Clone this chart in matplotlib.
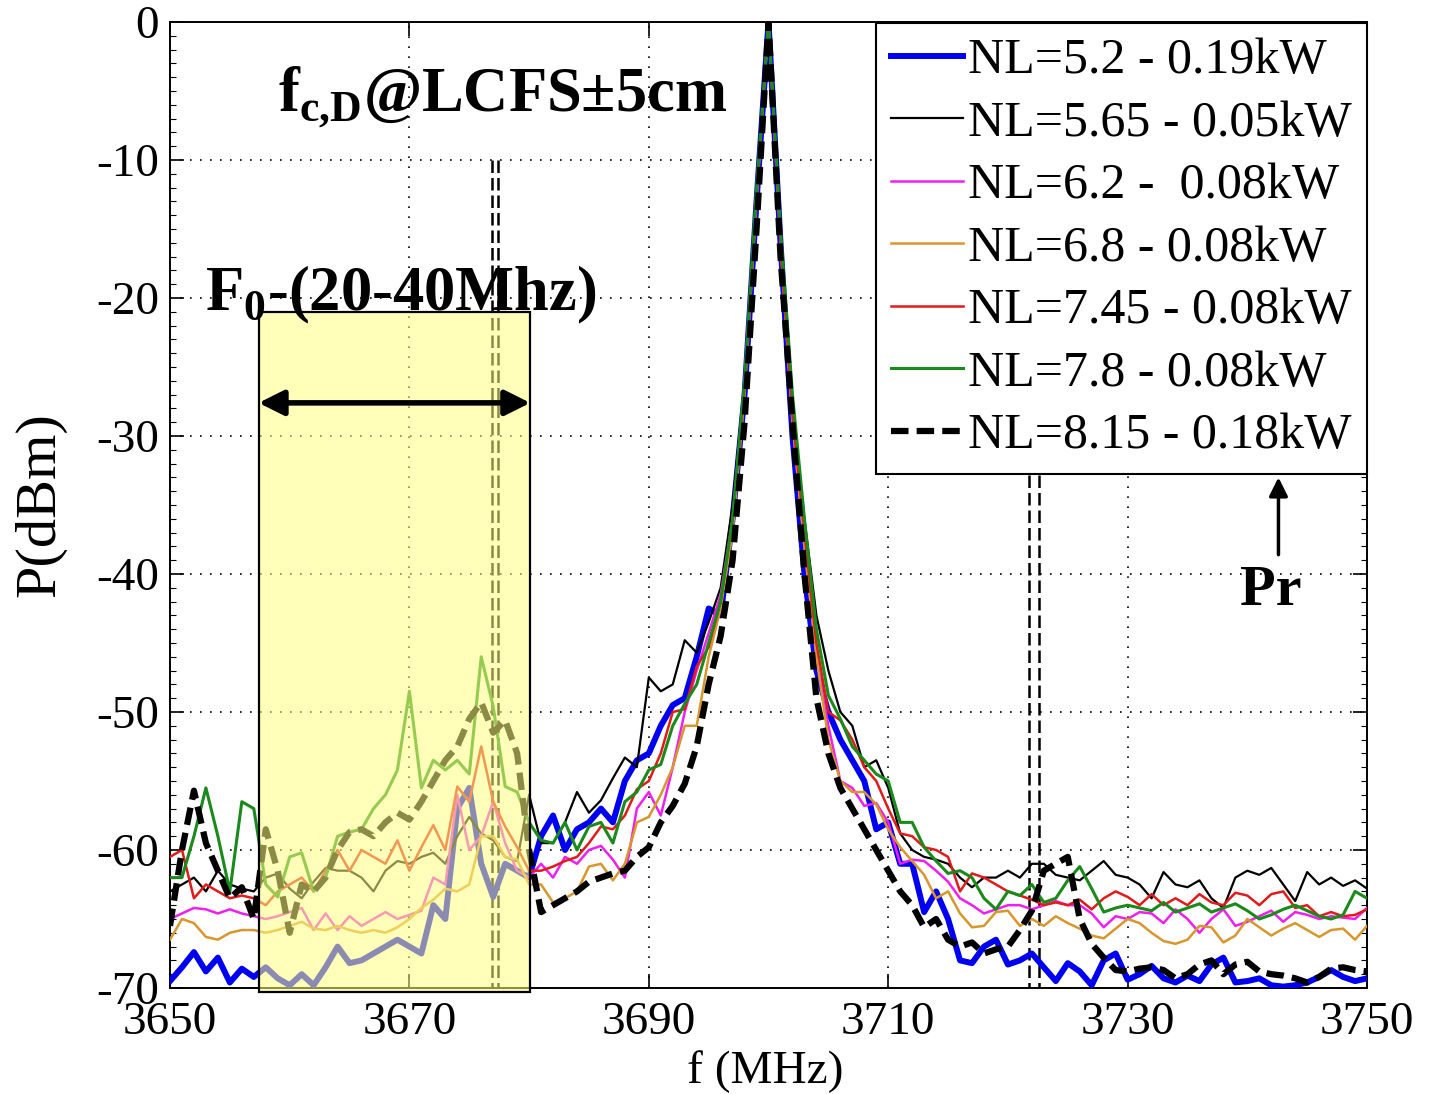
import numpy as np
import matplotlib
matplotlib.use('Agg')
import matplotlib.pyplot as plt
from matplotlib.patches import Rectangle
from matplotlib.ticker import MultipleLocator

plt.rcParams['font.family'] = 'Liberation Serif'
plt.rcParams['mathtext.fontset'] = 'custom'
plt.rcParams['mathtext.rm'] = 'Liberation Serif'
plt.rcParams['mathtext.bf'] = 'Liberation Serif:bold'
plt.rcParams['axes.unicode_minus'] = False

# frequency axis (MHz), 1 MHz steps
freq = np.arange(3650, 3751)

# received power (dBm) for each NL setting
p_nl520 = [-69.5, -68.5, -67.4, -68.8, -67.8, -69.6, -68.6, -69.2,
           -68.5, -69.3, -69.8, -69.0, -69.8, -68.5, -67.0, -68.2, -68.0, -67.5, -67.0, -66.5,
           -67.0, -67.5, -64.0, -65.0, -57.0, -55.5, -61.0, -63.4, -61.0, -61.5, -62.0,
           -59.0, -57.5, -60.0, -58.5, -58.0, -57.0, -58.0, -55.0, -53.5, -53.0,
           -51.0, -49.5, -49.0, -46.0, -42.5, -43.0, -36.0, -27.0, -13.0, 0.0,
           -16.0, -30.0, -40.0, -47.0, -50.0, -52.0, -53.5, -55.0, -58.5, -58.0,
           -61.0, -61.0, -64.5, -63.0, -65.0, -68.0, -68.2, -67.0, -66.5, -68.3,
           -68.0, -67.5, -68.5, -69.5, -68.2, -68.8, -69.8, -68.0, -67.5, -69.4,
           -69.0, -68.4, -69.3, -69.6, -69.1, -69.5, -68.3, -67.8, -69.6, -69.5,
           -69.3, -69.8, -69.9, -69.8, -69.6, -69.2, -68.7, -69.2, -69.5, -69.3]
p_nl565 = [-63.0, -62.5, -62.0, -63.0, -61.5, -62.5, -62.8, -63.0,
           -62.0, -61.7, -62.8, -63.5, -62.3, -61.3, -61.5, -61.5, -62.0, -63.0, -61.5, -60.8,
           -61.0, -60.5, -60.2, -61.0, -59.0, -57.6, -58.8, -59.3, -60.5, -60.8, -56.0,
           -59.5, -59.5, -58.0, -55.8, -57.3, -56.4, -54.8, -53.3, -54.0, -47.5,
           -48.5, -48.0, -44.8, -45.7, -43.5, -41.0, -35.0, -26.0, -12.0, 0.0,
           -15.0, -28.0, -36.0, -43.0, -47.0, -50.0, -51.0, -54.0, -53.5, -55.5,
           -58.8, -60.0, -60.5, -60.7, -61.0, -62.0, -62.7, -62.0, -62.0, -61.5,
           -62.0, -61.0, -61.0, -61.8, -62.0, -62.2, -61.5, -60.8, -61.8, -62.0,
           -62.5, -63.5, -61.6, -62.5, -62.7, -62.2, -63.5, -64.2, -62.0, -61.5,
           -61.8, -61.3, -62.5, -63.7, -61.6, -62.5, -62.0, -62.6, -62.2, -62.8]
p_nl620 = [-65.0, -64.6, -64.2, -64.3, -64.6, -64.3, -64.6, -64.8,
           -65.0, -64.8, -64.5, -64.2, -65.8, -64.6, -65.8, -64.8, -65.5, -65.0, -64.5, -65.0,
           -64.7, -64.4, -62.0, -62.5, -56.0, -60.0, -59.0, -56.5, -59.5, -61.5, -62.0,
           -61.0, -62.0, -60.5, -61.0, -60.0, -59.7, -60.7, -62.0, -57.0, -55.8,
           -57.5, -54.0, -50.0, -47.0, -44.3, -41.5, -36.0, -26.0, -12.5, 0.0,
           -16.0, -29.0, -38.0, -46.0, -51.0, -55.0, -55.5, -56.8, -56.6, -58.0,
           -61.0, -60.7, -60.8, -61.5, -62.3, -63.5, -64.0, -64.6, -64.3, -64.0,
           -64.0, -64.3, -64.0, -63.7, -64.0, -64.0, -64.6, -65.6, -64.8, -65.0,
           -64.5, -64.6, -65.3, -64.3, -65.0, -66.0, -65.0, -64.3, -65.5, -65.2,
           -64.8, -64.4, -65.2, -64.5, -64.7, -65.0, -64.8, -64.9, -65.0, -64.2]
p_nl680 = [-66.5, -65.0, -65.3, -66.3, -66.5, -66.0, -65.8, -65.8,
           -66.0, -65.8, -65.5, -65.2, -65.7, -65.8, -65.5, -65.8, -66.0, -65.8, -66.0, -65.6,
           -65.0, -64.2, -63.6, -62.8, -63.0, -62.5, -59.0, -59.0, -60.5, -60.7, -62.5,
           -62.5, -63.8, -63.5, -63.0, -61.2, -61.0, -62.2, -61.0, -58.0, -57.6,
           -56.0, -54.0, -51.0, -51.0, -46.0, -42.5, -37.0, -27.0, -13.0, 0.0,
           -16.0, -29.0, -38.0, -46.0, -52.0, -55.0, -55.8, -55.8, -56.7, -58.5,
           -59.8, -60.8, -61.8, -63.5, -63.0, -64.6, -65.6, -65.5, -64.5, -64.4,
           -65.5, -65.0, -65.5, -64.8, -65.3, -65.7, -66.2, -66.4, -65.7, -65.0,
           -65.3, -66.0, -66.6, -66.8, -66.5, -65.5, -65.6, -66.7, -66.2, -65.0,
           -65.6, -66.2, -65.7, -65.3, -65.8, -66.3, -65.8, -65.7, -66.5, -65.5]
p_nl745 = [-60.5, -60.0, -63.5, -62.5, -63.0, -63.5, -63.3, -63.5,
           -64.0, -63.0, -62.5, -62.0, -63.0, -61.5, -60.0, -61.5, -60.0, -60.5, -61.0, -59.3,
           -61.5, -59.8, -58.2, -60.0, -55.4, -56.5, -52.5, -56.5, -58.3, -59.8, -61.5,
           -61.5, -61.2, -60.8, -60.5, -59.5, -58.3, -58.5, -57.5, -55.6, -55.0,
           -53.0, -50.0, -49.8, -46.7, -45.3, -42.0, -36.0, -26.5, -12.5, 0.0,
           -16.0, -28.5, -37.0, -45.0, -50.0, -50.6, -52.0, -54.0, -55.0, -57.0,
           -58.8, -59.0, -59.8, -60.0, -60.5, -63.0, -61.7, -62.0, -62.5, -63.0,
           -63.3, -63.6, -64.0, -63.8, -64.0, -63.6, -64.3, -63.5, -63.0, -63.4,
           -64.0, -63.2, -64.0, -63.5, -64.0, -63.2, -63.8, -64.0, -63.1, -63.3,
           -64.0, -63.2, -63.0, -64.2, -64.0, -64.8, -64.5, -64.8, -64.7, -64.3]
p_nl780 = [-62.0, -62.0, -59.0, -55.5, -59.0, -63.0, -56.5, -57.0,
           -62.5, -63.4, -60.5, -60.2, -63.0, -62.0, -59.0, -58.7, -58.5, -57.0, -56.0, -54.2,
           -48.5, -55.5, -53.5, -54.2, -53.5, -54.5, -46.0, -49.6, -55.4, -55.8, -58.0,
           -59.3, -59.5, -58.0, -60.0, -58.3, -58.0, -59.5, -56.5, -55.8, -54.2,
           -53.8, -51.0, -49.4, -48.0, -45.0, -42.0, -36.0, -26.0, -12.0, 0.0,
           -15.0, -27.0, -36.0, -44.0, -48.8, -50.5, -52.5, -53.5, -54.5, -55.0,
           -58.0, -58.0, -59.8, -60.8, -61.7, -61.5, -62.0, -63.5, -64.3, -63.0,
           -63.3, -62.5, -63.8, -63.5, -62.2, -61.2, -62.8, -64.5, -64.2, -64.0,
           -64.2, -64.4, -63.8, -64.5, -64.2, -63.9, -64.5, -64.2, -63.9, -64.4,
           -65.0, -64.7, -64.3, -64.0, -64.4, -64.8, -65.0, -64.7, -63.0, -63.5]
p_nl815 = [-65.5, -60.0, -55.7, -59.5, -61.5, -63.5, -62.7, -65.0,
           -58.5, -61.5, -66.0, -62.5, -63.0, -62.0, -60.0, -58.7, -58.5, -59.0, -58.0, -57.3,
           -57.8, -56.5, -55.0, -53.5, -52.5, -50.5, -49.3, -51.5, -50.6, -53.0, -60.0,
           -64.5, -64.0, -63.5, -63.0, -62.3, -62.0, -61.7, -61.5, -60.5, -59.8,
           -58.0, -56.8, -55.2, -52.5, -48.0, -44.5, -39.0, -29.0, -15.0, 0.0,
           -17.0, -29.0, -40.0, -49.0, -53.0, -55.5, -57.0, -58.5, -60.0, -61.5,
           -63.0, -64.0, -65.6, -65.0, -66.5, -67.0, -66.7, -67.5, -67.2, -67.0,
           -65.8, -64.4, -61.5, -61.0, -60.5, -65.0, -66.8, -67.8, -68.7, -68.8,
           -68.6, -68.5, -68.7, -69.3, -69.0, -68.3, -68.0, -69.0, -68.3, -68.1,
           -68.8, -69.0, -69.1, -69.3, -69.6, -69.2, -68.6, -68.5, -68.7, -68.8]

labels = ['NL=5.2 - 0.19kW', 'NL=5.65 - 0.05kW', 'NL=6.2 -  0.08kW',
          'NL=6.8 - 0.08kW', 'NL=7.45 - 0.08kW', 'NL=7.8 - 0.08kW',
          'NL=8.15 - 0.18kW']

# marker positions for the cyclotron-layer frequencies and the analysed band
fcd_lines = [3676.9, 3677.4, 3721.8, 3722.6]
band = [3657.4, 3680.1]

fig = plt.figure(figsize=(14.31, 10.94), dpi=100)
ax = fig.add_axes([0.1188, 0.0969, 0.8365, 0.883])

ax.plot(freq, p_nl520, color='#0000F0', lw=4.3, label=labels[0], zorder=3)
ax.plot(freq, p_nl565, color='black', lw=1.6, label=labels[1], zorder=3)
ax.plot(freq, p_nl620, color='#F01EF0', lw=1.8, label=labels[2], zorder=3)
ax.plot(freq, p_nl680, color='#D8962C', lw=1.8, label=labels[3], zorder=3)
ax.plot(freq, p_nl745, color='#E41A1A', lw=1.8, label=labels[4], zorder=3)
ax.plot(freq, p_nl780, color='#1A8A1A', lw=2.2, label=labels[5], zorder=3)
ax.plot(freq, p_nl815, color='black', lw=4.5, ls=(0, (2.8, 1.3)),
        label=labels[6], zorder=3)

for fx in fcd_lines:
    ax.plot([fx, fx], [-10, -70], color='black', lw=1.8,
            ls=(0, (5, 2)), zorder=2)

# shaded band F0-(20-40 MHz), drawn over the traces
ax.add_patch(Rectangle((band[0], -70.3), band[1] - band[0], 49.3,
                       facecolor=(1.0, 1.0, 0.5, 0.55), edgecolor='black',
                       lw=1.6, clip_on=False, zorder=4))
ax.annotate('', xy=(band[0], -27.6), xytext=(band[1], -27.6),
            arrowprops=dict(arrowstyle='<|-|>', lw=4, color='black',
                            mutation_scale=38, shrinkA=0, shrinkB=0),
            zorder=5)

ax.text(3659.0, -6.4, r'f$_{\mathbf{c{,}D}}$@LCFS±5cm', fontsize=45,
        fontweight='bold', va='baseline', ha='left', zorder=6)
ax.text(3652.9, -20.9, r'F$_{\mathbf{0}}$-(20-40Mhz)', fontsize=45,
        fontweight='bold', va='baseline', ha='left', zorder=6)

ax.annotate('', xy=(3742.6, -33.0), xytext=(3742.6, -38.6),
            arrowprops=dict(arrowstyle='-|>', lw=2.5, color='black',
                            mutation_scale=28, shrinkA=0, shrinkB=0))
ax.text(3742.0, -41.2, 'Pr', fontsize=42, fontweight='bold',
        ha='center', va='center')

ax.set_xlim(3650, 3750)
ax.set_ylim(-70, 0)
ax.set_xticks([3650, 3670, 3690, 3710, 3730, 3750])
ax.set_yticks(np.arange(-70, 1, 10))
ax.yaxis.set_minor_locator(MultipleLocator(1))
ax.tick_params(which='both', direction='in', top=True, right=True,
               labelsize=34)
ax.tick_params(which='major', length=10, width=1.2)
ax.tick_params(which='minor', length=4, width=0.8)
ax.tick_params(axis='x', pad=10)
ax.tick_params(axis='y', pad=8)
ax.grid(True, color='black', ls=(0, (1, 5)), lw=1.2)
for s in ax.spines.values():
    s.set_linewidth(1.4)

leg = ax.legend(loc='upper right', bbox_to_anchor=(1.0, 0.999),
                borderaxespad=0, fontsize=36, handlelength=1.45,
                handletextpad=0.1, labelspacing=0.32, borderpad=0.3,
                fancybox=False, framealpha=1, edgecolor='black')
leg.get_frame().set_linewidth(1.5)
leg.set_zorder(10)

fig.text(40 / 1431, 1 - 505 / 1094, 'P(dBm)', rotation=90, fontsize=42,
         ha='center', va='center')
fig.text(765 / 1431, 1 - 1072 / 1094, 'f (MHz)', fontsize=34,
         ha='center', va='center')

fig.savefig('out.png', dpi=100)
